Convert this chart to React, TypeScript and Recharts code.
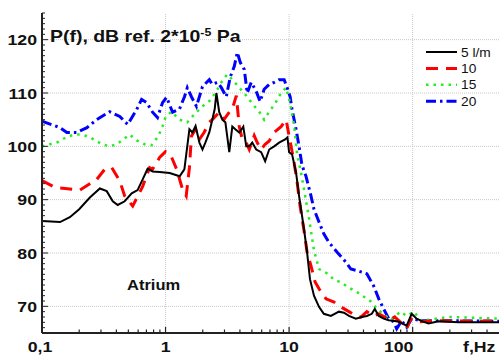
import React from 'react';
import { LineChart, Line, XAxis, YAxis, ReferenceLine } from 'recharts';

// ---- data: [frequency Hz, level dB] ----
const series5: [number, number][] = [
  [0.1, 86], [0.14, 85.8], [0.168, 86.7], [0.2, 88.2], [0.244, 90.4], [0.294, 92.1], [0.334, 91.6],
  [0.374, 89.7], [0.41, 89], [0.467, 89.7], [0.532, 91.2], [0.594, 91.8], [0.653, 93.8], [0.716, 95.8],
  [0.785, 95.3], [0.895, 95.2], [1.08, 95], [1.3, 94.4], [1.42, 95.7], [1.56, 103.2], [1.65, 102.6],
  [1.75, 103.8], [1.88, 100.7], [1.99, 99.4], [2.1, 100.7], [2.26, 102.6], [2.39, 105], [2.5, 107],
  [2.58, 110], [2.72, 106.4], [2.88, 105], [3.05, 104.5], [3.28, 98.9], [3.47, 103.7], [3.67, 103.2],
  [3.95, 102.6], [4.26, 103.7], [4.5, 100], [4.76, 100], [5.03, 100.7], [5.42, 99.4], [5.94, 98.9],
  [6.4, 97.2], [6.9, 99.4], [7.57, 100], [8.3, 100.7], [9.29, 101.3], [9.7, 101.7], [10, 98.9],
  [10.57, 98.5], [11.38, 95.1], [12.04, 90.7], [13.2, 84.5], [13.97, 80.2], [14.76, 75.1], [15.9, 72],
  [17.46, 69.9], [19.1, 68.6], [21.8, 68.2], [25.3, 69], [27.8, 68.8], [30.5, 68.2], [34.7, 67.7],
  [38.8, 68], [42.6, 68.2], [46.7, 68.6], [49.4, 69.5], [53.2, 68.2], [58.3, 67.7], [64, 67.4],
  [70.2, 67.3], [77.1, 67.1], [89.5, 66.4], [98.2, 68.6], [107.7, 67.7], [122.7, 67.1], [134.6, 66.8],
  [162, 67.2], [235, 67], [340, 67], [500, 67],
];

const series10: [number, number][] = [
  [0.1, 93.6], [0.127, 92.3], [0.168, 92], [0.2025, 91.8], [0.2775, 93.8], [0.322, 95.7], [0.367, 96],
  [0.426, 93.5], [0.467, 90.7], [0.542, 88.8], [0.653, 92.5], [0.743, 96], [0.785, 95.7], [0.895, 97.9],
  [1.0, 99], [1.117, 98], [1.23, 95.7], [1.37, 92], [1.47, 90.7], [1.56, 96], [1.62, 101.9],
  [1.745, 103.2], [1.88, 101.3], [2.05, 102.6], [2.26, 104.5], [2.39, 105], [2.72, 106.4], [2.97, 105],
  [3.28, 106.4], [3.47, 107], [3.74, 109.5], [3.95, 103.7], [4.18, 101.3], [4.5, 100.7], [4.76, 99.4],
  [5.22, 102], [5.52, 100.7], [5.94, 99.4], [6.4, 100.4], [6.9, 101], [7.57, 102.6], [8.61, 103.7],
  [9.46, 105], [10, 101.9], [10.38, 100], [10.97, 97], [11.61, 93.3], [12.27, 88.8], [13.2, 84.2],
  [13.97, 80.2], [15.04, 77.6], [16.2, 74.6], [17.46, 73.3], [19.9, 71.4], [23.1, 70.8], [26.2, 69.9],
  [30.5, 69], [34.7, 68.2], [38.1, 68], [42.6, 69], [48.4, 68.2], [53.2, 68.6], [59.4, 68], [64, 67.3],
  [71.6, 68], [81.5, 66.8], [89.5, 65.8], [96.4, 67.7], [111.7, 67.1], [162, 67.3], [340, 67.2], [500, 67.3],
];

const series15: [number, number][] = [
  [0.1, 100], [0.116, 100.4], [0.135, 100.8], [0.159, 101.8], [0.185, 102.2], [0.214, 102.2],
  [0.253, 101.5], [0.305, 100.4], [0.353, 100], [0.403, 100.4], [0.513, 102.2], [0.584, 101.1],
  [0.677, 100.4], [0.771, 100.2], [0.861, 101.7], [0.929, 103.2], [1.0, 105.5], [1.117, 106.5],
  [1.297, 105], [1.5, 104.5], [1.71, 106], [1.99, 107.5], [2.26, 108.5], [2.53, 110], [2.83, 112],
  [3.16, 113.5], [3.47, 112.5], [3.95, 111], [4.5, 109.5], [5.03, 108], [5.73, 106.5], [6.28, 105],
  [6.9, 106.5], [7.7, 108], [8.61, 110], [9.46, 111], [10.2, 108], [10.97, 104], [11.61, 98.5],
  [12.5, 95], [13.2, 92], [14.5, 86.5], [15.9, 80.5], [17.46, 77], [20.2, 76.2], [23.1, 75],
  [26.2, 74.5], [30.5, 73.5], [35.3, 72.7], [40.3, 71.8], [46.7, 70.8], [51.3, 69.5], [58.3, 68.5],
  [66.5, 67.5], [80, 69], [89.5, 68.2], [102, 69], [118, 67.3], [195, 68], [500, 67.7],
];

const series20: [number, number][] = [
  [0.1, 104.7], [0.14, 103.5], [0.159, 102.6], [0.191, 102.6], [0.231, 103.5], [0.277, 105],
  [0.353, 106.5], [0.426, 105.6], [0.494, 104.1], [0.584, 106.9], [0.64, 108.8], [0.703, 108.2],
  [0.785, 106.4], [0.861, 105.4], [0.946, 108.2], [1.02, 109.2], [1.14, 106.4], [1.297, 107],
  [1.423, 109.3], [1.5, 111], [1.62, 109.3], [1.78, 107.5], [1.99, 111.2], [2.26, 112.5], [2.39, 111.6],
  [2.63, 112], [2.83, 111], [3.1, 109.3], [3.34, 113], [3.6, 115], [3.81, 117.6], [4.03, 115.7],
  [4.34, 114.4], [4.58, 110], [4.94, 112], [5.42, 110.3], [5.83, 108.4], [6.28, 110.7], [6.9, 111.6],
  [7.57, 112], [8.3, 112.5], [9.12, 112.5], [9.64, 111], [10.2, 109.3], [10.57, 106.9], [11.38, 103.2],
  [12.04, 100], [12.7, 96.5], [13.7, 94.4], [15.04, 90.7], [15.9, 88.2], [17.46, 85.8], [19.1, 83.6],
  [21, 82], [24.4, 80.2], [28.8, 78.3], [31.6, 77], [36.7, 76.6], [42.6, 76.1], [48.4, 73.8],
  [53.2, 71.4], [58.3, 69.5], [64, 67.7], [70.2, 67.1], [74.3, 65.8], [81.5, 67.3], [89.5, 66.1],
  [98.2, 67.7], [118, 67.3], [195, 67.3], [500, 67.2],
];

const seriesNames = ['5 l/m', '10', '15', '20'];
const xTicks = [
  0.1, 0.2, 0.3, 0.4, 0.5, 0.6, 0.7, 0.8, 0.9,
  1, 2, 3, 4, 5, 6, 7, 8, 9,
  10, 20, 30, 40, 50, 60, 70, 80, 90,
  100, 200, 300, 400,
];
const xTickLabels: Record<string, string> = { '0.1': '0,1', '1': '1', '10': '10', '100': '100' };
const yTickLabels = [70, 80, 90, 100, 110, 120];
const yTicks = Array.from({ length: 61 }, (_, i) => 65 + i);
const xGrid = [1, 10, 100];
const xLabelText = 'f,Hz';
const titleMain = 'P(f), dB ref. 2*10';
const titleSup = '-5';
const titleEnd = ' Pa';
const noteText = 'Atrium';

const toPts = (s: [number, number][]) => s.map(([f, v]) => ({ f, v }));

const FONT = '"Liberation Sans", Arial, Helvetica, sans-serif';
const SX = 1.18;
const AX = '#222';

const styles = [
  { color: '#000000', dash: undefined as string | undefined, width: 2 },
  { color: '#ff0000', dash: '12 8', width: 3 },
  { color: '#22ee22', dash: '2.5 5', width: 2.5 },
  { color: '#0000ff', dash: '10 4 2.5 4', width: 3 },
];

const isMajorX = (v: number) => xTickLabels[String(v)] !== undefined;

const BottomTick = (p: any) => {
  const { x, y, payload } = p;
  const v = payload.value;
  const lab = xTickLabels[String(v)];
  const dx = v === 100 ? -14 : v === 0.1 ? -2 : 0;
  return (
    <g>
      <line x1={x} x2={x} y1={y} y2={y - (isMajorX(v) ? 6 : 3.5)} stroke={AX} strokeWidth={1.2} />
      {lab && (
        <text transform={`translate(${x + dx},${y + 19}) scale(${SX},1)`} textAnchor="middle"
          fontSize={15} fontWeight="bold" fontFamily={FONT} fill="#111">{lab}</text>
      )}
    </g>
  );
};

const TopTick = (p: any) => {
  const { x, y, payload } = p;
  const v = payload.value;
  return <line x1={x} x2={x} y1={y} y2={y + (isMajorX(v) ? 6 : 3.5)} stroke={AX} strokeWidth={1.2} />;
};

const LeftTick = (p: any) => {
  const { x, y, payload } = p;
  const v = payload.value;
  const major = v % 10 === 0;
  const lab = yTickLabels.includes(v);
  return (
    <g>
      <line x1={x} x2={x + (major ? 6 : 3)} y1={y} y2={y} stroke={AX} strokeWidth={1} />
      {lab && (
        <text transform={`translate(${x - 5},${y + 5.5}) scale(${SX},1)`} textAnchor="end"
          fontSize={15} fontWeight="bold" fontFamily={FONT} fill="#111">{v}</text>
      )}
    </g>
  );
};

const RightTick = (p: any) => {
  const { x, y, payload } = p;
  const v = payload.value;
  const major = v % 10 === 0;
  return <line x1={x} x2={x - (major ? 6 : 3)} y1={y} y2={y} stroke={AX} strokeWidth={1} />;
};

export default function App() {
  const W = 502;
  const H = 356;
  const all = [series5, series10, series15, series20];
  return (
    <div style={{ position: 'absolute', left: 0, top: 0, width: W, height: H, background: '#fff' }}>
      <LineChart width={W} height={H} margin={{ top: 13, right: 3, bottom: 0, left: 0 }}>
        <XAxis xAxisId={0} dataKey="f" type="number" scale="log" domain={[0.1, 500]} allowDataOverflow
          ticks={xTicks} interval={0} tickSize={0} tickMargin={0} tick={<BottomTick />} height={23}
          axisLine={{ stroke: AX, strokeWidth: 2 }} />
        <XAxis xAxisId="top" orientation="top" dataKey="f" type="number" scale="log" domain={[0.1, 500]}
          allowDataOverflow ticks={xTicks} interval={0} tickSize={0} tickMargin={0} tick={<TopTick />} height={0}
          axisLine={{ stroke: AX, strokeWidth: 2 }} />
        <YAxis yAxisId={0} type="number" domain={[65, 125]} allowDataOverflow ticks={yTicks} interval={0}
          tickSize={0} tickMargin={0} tick={<LeftTick />} width={42} axisLine={{ stroke: AX, strokeWidth: 2 }} />
        <YAxis yAxisId="right" orientation="right" type="number" domain={[65, 125]} allowDataOverflow
          ticks={yTicks} interval={0} tickSize={0} tickMargin={0} tick={<RightTick />} width={0}
          axisLine={{ stroke: AX, strokeWidth: 2 }} />
        {yTickLabels.map((v) => (
          <ReferenceLine key={'h' + v} y={v} stroke="#c8c8c8" strokeWidth={1} strokeDasharray="1 1" />
        ))}
        {xGrid.map((v) => (
          <ReferenceLine key={'v' + v} x={v} stroke="#c8c8c8" strokeWidth={1} strokeDasharray="1 1" />
        ))}
        {all.map((s, i) => (
          <Line key={seriesNames[i]} name={seriesNames[i]} data={toPts(s)} dataKey="v" type="linear"
            stroke={styles[i].color} strokeWidth={styles[i].width} strokeDasharray={styles[i].dash}
            dot={false} activeDot={false} isAnimationActive={false} />
        )).reverse()}
      </LineChart>
      <svg width={W} height={H} style={{ position: 'absolute', left: 0, top: 0, pointerEvents: 'none' }}>
        <text transform={`translate(50,42) scale(${SX},1)`} fontSize={16.5} fontWeight="bold" fontFamily={FONT} fill="#111">
          {titleMain}
          <tspan fontSize={10.5} dy={-6}>{titleSup}</tspan>
          <tspan dy={6}>{titleEnd}</tspan>
        </text>
        <text transform={`translate(127,290) scale(${SX},1)`} fontSize={14} fontWeight="bold" fontFamily={FONT} fill="#111">
          {noteText}
        </text>
        <text transform={`translate(463,352) scale(${SX},1)`} fontSize={15} fontWeight="bold" fontFamily={FONT} fill="#111">
          {xLabelText}
        </text>
        {seriesNames.map((n, i) => {
          const y = 52 + i * 16.4;
          return (
            <g key={n}>
              <line x1={426} x2={457} y1={y} y2={y} stroke={styles[i].color} strokeWidth={styles[i].width}
                strokeDasharray={styles[i].dash} />
              <text transform={`translate(461,${y + 4.5}) scale(1.1,1)`} fontSize={12.5} fontFamily={FONT} fill="#111">{n}</text>
            </g>
          );
        })}
      </svg>
    </div>
  );
}
